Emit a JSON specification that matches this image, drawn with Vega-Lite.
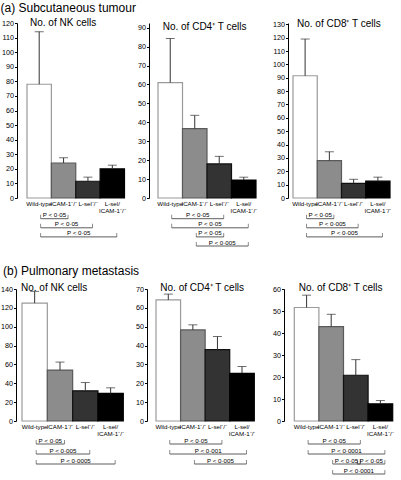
{
  "$schema": "https://vega.github.io/schema/vega-lite/v6.json",
  "autosize": {"type": "pad"},
  "padding": {"left": 0, "top": 2, "right": 0, "bottom": 0},
  "title": {"text": "(a) Subcutaneous tumour", "anchor": "start", "fontSize": 12, "fontWeight": "normal", "offset": -6.8, "baseline": "alphabetic"},
  "config": {
    "font": "Liberation Sans",
    "view": {"stroke": null},
    "axis": {"domainColor": "#000", "tickColor": "#000", "labelColor": "#000", "grid": false, "labelOverlap": false},
    "axisY": {"labelOverlap": false},
    "axisQuantitative": {"labelOverlap": false},
    "title": {"color": "#000"}
  },
  "datasets": {
    "bars": [
      {"panel": "a1", "group": "Wild-type", "mean": 78, "upper": 114},
      {"panel": "a1", "group": "ICAM-1⁻/⁻", "mean": 24, "upper": 27.6},
      {"panel": "a1", "group": "L-sel⁻/⁻", "mean": 11.5, "upper": 14.3},
      {"panel": "a1", "group": "L-sel/ICAM-1⁻/⁻", "mean": 20, "upper": 22.5},
      {"panel": "a2", "group": "Wild-type", "mean": 61, "upper": 84.3},
      {"panel": "a2", "group": "ICAM-1⁻/⁻", "mean": 36.7, "upper": 43.7},
      {"panel": "a2", "group": "L-sel⁻/⁻", "mean": 18, "upper": 22},
      {"panel": "a2", "group": "L-sel/ICAM-1⁻/⁻", "mean": 9.5, "upper": 11},
      {"panel": "a3", "group": "Wild-type", "mean": 91.5, "upper": 119},
      {"panel": "a3", "group": "ICAM-1⁻/⁻", "mean": 28, "upper": 34.6},
      {"panel": "a3", "group": "L-sel⁻/⁻", "mean": 11, "upper": 14},
      {"panel": "a3", "group": "L-sel/ICAM-1⁻/⁻", "mean": 12.6, "upper": 15.6},
      {"panel": "b1", "group": "Wild-type", "mean": 125, "upper": 137.5},
      {"panel": "b1", "group": "ICAM-1⁻/⁻", "mean": 54, "upper": 62.5},
      {"panel": "b1", "group": "L-sel⁻/⁻", "mean": 32, "upper": 40.8},
      {"panel": "b1", "group": "L-sel/ICAM-1⁻/⁻", "mean": 29.2, "upper": 35.2},
      {"panel": "b2", "group": "Wild-type", "mean": 64.2, "upper": 67.3},
      {"panel": "b2", "group": "ICAM-1⁻/⁻", "mean": 48.3, "upper": 51},
      {"panel": "b2", "group": "L-sel⁻/⁻", "mean": 37.8, "upper": 44.8},
      {"panel": "b2", "group": "L-sel/ICAM-1⁻/⁻", "mean": 25.3, "upper": 28.9},
      {"panel": "b3", "group": "Wild-type", "mean": 51.6, "upper": 57.2},
      {"panel": "b3", "group": "ICAM-1⁻/⁻", "mean": 42.9, "upper": 48.5},
      {"panel": "b3", "group": "L-sel⁻/⁻", "mean": 20.8, "upper": 27.9},
      {"panel": "b3", "group": "L-sel/ICAM-1⁻/⁻", "mean": 7.8, "upper": 9.3}
    ],
    "brackets": [
      {"panel": "a1", "from": 1, "to": 2, "level": 1, "label": "P < 0·05"},
      {"panel": "a1", "from": 1, "to": 3, "level": 2, "label": "P < 0·05"},
      {"panel": "a1", "from": 1, "to": 4, "level": 3, "label": "P < 0·05"},
      {"panel": "a2", "from": 1, "to": 3, "level": 1, "label": "P < 0·05"},
      {"panel": "a2", "from": 1, "to": 4, "level": 2, "label": "P < 0·05"},
      {"panel": "a2", "from": 2, "to": 3, "level": 3, "label": "P < 0·05"},
      {"panel": "a2", "from": 2, "to": 4, "level": 4, "label": "P < 0·005"},
      {"panel": "a3", "from": 1, "to": 2, "level": 1, "label": "P < 0·05"},
      {"panel": "a3", "from": 1, "to": 3, "level": 2, "label": "P < 0·005"},
      {"panel": "a3", "from": 1, "to": 4, "level": 3, "label": "P < 0·005"},
      {"panel": "b1", "from": 1, "to": 2, "level": 1, "label": "P < 0·05"},
      {"panel": "b1", "from": 1, "to": 3, "level": 2, "label": "P < 0·005"},
      {"panel": "b1", "from": 1, "to": 4, "level": 3, "label": "P < 0·0005"},
      {"panel": "b2", "from": 1, "to": 3, "level": 1, "label": "P < 0·05"},
      {"panel": "b2", "from": 1, "to": 4, "level": 2, "label": "P < 0·001"},
      {"panel": "b2", "from": 2, "to": 4, "level": 3, "label": "P < 0·005"},
      {"panel": "b3", "from": 1, "to": 3, "level": 1, "label": "P < 0·05"},
      {"panel": "b3", "from": 1, "to": 4, "level": 2, "label": "P < 0·0001"},
      {"panel": "b3", "from": 2, "to": 3, "level": 3, "label": "P < 0·05"},
      {"panel": "b3", "from": 3, "to": 4, "level": 3, "label": "P < 0·05"},
      {"panel": "b3", "from": 2, "to": 4, "level": 4, "label": "P < 0·0001"}
    ]
  },
  "columns": 3,
  "spacing": {"row": 0, "column": 0},
  "bounds": "flush",
  "align": "each",
  "concat": [
    {
      "width": 132, "height": 175,
      "title": {"text": "No. of NK cells", "anchor": "start", "frame": "group", "dx": 13, "offset": -16.5, "fontSize": 10, "fontWeight": "normal", "baseline": "alphabetic"},
      "data": {"name": "bars"},
      "transform": [{"filter": "datum.panel == 'a1'"}],
      "encoding": {
        "x": {"field": "group", "type": "nominal", "sort": null,
          "scale": {"domain": ["Wild-type", "ICAM-1⁻/⁻", "L-sel⁻/⁻", "L-sel/ICAM-1⁻/⁻"], "paddingInner": 0, "paddingOuter": 0.7077, "align": 0.2899},
          "axis": {"title": null, "domain": false, "ticks": false, "labelAngle": 0, "labelFontSize": 6.2, "labelPadding": 2, "labelOverlap": false, "labelBound": false, "labelFlush": false, "labelLineHeight": 7.5, "labelBaseline": "top", "labelExpr": "datum.value == 'L-sel/ICAM-1⁻/⁻' ? ['L-sel/', 'ICAM-1⁻/⁻'] : datum.label"}}
      },
      "layer": [
        {"mark": {"type": "bar", "strokeWidth": 1.2},
          "encoding": {
            "y": {"field": "mean", "type": "quantitative", "stack": null, "scale": {"domain": [0, 120], "nice": false},
              "axis": {"title": null, "values": [0, 10, 20, 30, 40, 50, 60, 70, 80, 90, 100, 110, 120], "labelOverlap": false, "tickSize": 2.5, "labelPadding": 1, "labelFontSize": 7.2}},
            "fill": {"field": "group", "type": "nominal", "legend": null, "scale": {"domain": ["Wild-type", "ICAM-1⁻/⁻", "L-sel⁻/⁻", "L-sel/ICAM-1⁻/⁻"], "range": ["#ffffff", "#8c8c8c", "#333333", "#000000"]}},
            "stroke": {"field": "group", "type": "nominal", "legend": null, "scale": {"domain": ["Wild-type", "ICAM-1⁻/⁻", "L-sel⁻/⁻", "L-sel/ICAM-1⁻/⁻"], "range": ["#9a9a9a", "#5a5a5a", "#111111", "#000000"]}}
          }},
        {"mark": {"type": "rule", "color": "#333", "strokeWidth": 1},
          "encoding": {"y": {"field": "mean", "type": "quantitative", "axis": {"title": null, "values": [0, 10, 20, 30, 40, 50, 60, 70, 80, 90, 100, 110, 120], "labelOverlap": false, "tickSize": 2.5, "labelPadding": 1, "labelFontSize": 7.2}}, "y2": {"field": "upper"}}},
        {"mark": {"type": "tick", "orient": "horizontal", "size": 9, "thickness": 1, "color": "#333"},
          "encoding": {"y": {"field": "upper", "type": "quantitative", "axis": {"title": null, "values": [0, 10, 20, 30, 40, 50, 60, 70, 80, 90, 100, 110, 120], "labelOverlap": false, "tickSize": 2.5, "labelPadding": 1, "labelFontSize": 7.2}}}}
      ]
    },
    {
      "width": 139, "height": 175,
      "title": {"text": "No. of CD4⁺ T cells", "anchor": "start", "frame": "group", "dx": 13.7, "offset": -16.5, "fontSize": 10, "fontWeight": "normal", "baseline": "alphabetic"},
      "data": {"name": "bars"},
      "transform": [{"filter": "datum.panel == 'a2'"}],
      "encoding": {
        "x": {"field": "group", "type": "nominal", "sort": null,
          "scale": {"domain": ["Wild-type", "ICAM-1⁻/⁻", "L-sel⁻/⁻", "L-sel/ICAM-1⁻/⁻"], "paddingInner": 0, "paddingOuter": 0.8367, "align": 0.2195},
          "axis": {"title": null, "domain": false, "ticks": false, "labelAngle": 0, "labelFontSize": 6.2, "labelPadding": 2, "labelOverlap": false, "labelBound": false, "labelFlush": false, "labelLineHeight": 7.5, "labelBaseline": "top", "labelExpr": "datum.value == 'L-sel/ICAM-1⁻/⁻' ? ['L-sel/', 'ICAM-1⁻/⁻'] : datum.label"}}
      },
      "layer": [
        {"mark": {"type": "bar", "strokeWidth": 1.2},
          "encoding": {
            "y": {"field": "mean", "type": "quantitative", "stack": null, "scale": {"domain": [0, 92.5], "nice": false},
              "axis": {"title": null, "values": [0, 10, 20, 30, 40, 50, 60, 70, 80, 90], "labelOverlap": false, "tickSize": 2.5, "labelPadding": 1, "labelFontSize": 7.2}},
            "fill": {"field": "group", "type": "nominal", "legend": null, "scale": {"domain": ["Wild-type", "ICAM-1⁻/⁻", "L-sel⁻/⁻", "L-sel/ICAM-1⁻/⁻"], "range": ["#ffffff", "#8c8c8c", "#333333", "#000000"]}},
            "stroke": {"field": "group", "type": "nominal", "legend": null, "scale": {"domain": ["Wild-type", "ICAM-1⁻/⁻", "L-sel⁻/⁻", "L-sel/ICAM-1⁻/⁻"], "range": ["#9a9a9a", "#5a5a5a", "#111111", "#000000"]}}
          }},
        {"mark": {"type": "rule", "color": "#333", "strokeWidth": 1},
          "encoding": {"y": {"field": "mean", "type": "quantitative", "axis": {"title": null, "values": [0, 10, 20, 30, 40, 50, 60, 70, 80, 90], "labelOverlap": false, "tickSize": 2.5, "labelPadding": 1, "labelFontSize": 7.2}}, "y2": {"field": "upper"}}},
        {"mark": {"type": "tick", "orient": "horizontal", "size": 9, "thickness": 1, "color": "#333"},
          "encoding": {"y": {"field": "upper", "type": "quantitative", "axis": {"title": null, "values": [0, 10, 20, 30, 40, 50, 60, 70, 80, 90], "labelOverlap": false, "tickSize": 2.5, "labelPadding": 1, "labelFontSize": 7.2}}}}
      ]
    },
    {
      "width": 105, "height": 175,
      "title": {"text": "No. of CD8⁺ T cells", "anchor": "start", "frame": "group", "dx": 9, "offset": -16.5, "fontSize": 10, "fontWeight": "normal", "baseline": "alphabetic"},
      "data": {"name": "bars"},
      "transform": [{"filter": "datum.panel == 'a3'"}],
      "encoding": {
        "x": {"field": "group", "type": "nominal", "sort": null,
          "scale": {"domain": ["Wild-type", "ICAM-1⁻/⁻", "L-sel⁻/⁻", "L-sel/ICAM-1⁻/⁻"], "paddingInner": 0, "paddingOuter": 0.1649, "align": 0.625},
          "axis": {"title": null, "domain": false, "ticks": false, "labelAngle": 0, "labelFontSize": 6.2, "labelPadding": 2, "labelOverlap": false, "labelBound": false, "labelFlush": false, "labelLineHeight": 7.5, "labelBaseline": "top", "labelExpr": "datum.value == 'L-sel/ICAM-1⁻/⁻' ? ['L-sel/', 'ICAM-1⁻/⁻'] : datum.label"}}
      },
      "layer": [
        {"mark": {"type": "bar", "strokeWidth": 1.2},
          "encoding": {
            "y": {"field": "mean", "type": "quantitative", "stack": null, "scale": {"domain": [0, 131], "nice": false},
              "axis": {"title": null, "values": [0, 10, 20, 30, 40, 50, 60, 70, 80, 90, 100, 110, 120, 130], "labelOverlap": false, "tickSize": 2.5, "labelPadding": 1, "labelFontSize": 7.2}},
            "fill": {"field": "group", "type": "nominal", "legend": null, "scale": {"domain": ["Wild-type", "ICAM-1⁻/⁻", "L-sel⁻/⁻", "L-sel/ICAM-1⁻/⁻"], "range": ["#ffffff", "#8c8c8c", "#333333", "#000000"]}},
            "stroke": {"field": "group", "type": "nominal", "legend": null, "scale": {"domain": ["Wild-type", "ICAM-1⁻/⁻", "L-sel⁻/⁻", "L-sel/ICAM-1⁻/⁻"], "range": ["#9a9a9a", "#5a5a5a", "#111111", "#000000"]}}
          }},
        {"mark": {"type": "rule", "color": "#333", "strokeWidth": 1},
          "encoding": {"y": {"field": "mean", "type": "quantitative", "axis": {"title": null, "values": [0, 10, 20, 30, 40, 50, 60, 70, 80, 90, 100, 110, 120, 130], "labelOverlap": false, "tickSize": 2.5, "labelPadding": 1, "labelFontSize": 7.2}}, "y2": {"field": "upper"}}},
        {"mark": {"type": "tick", "orient": "horizontal", "size": 9, "thickness": 1, "color": "#333"},
          "encoding": {"y": {"field": "upper", "type": "quantitative", "axis": {"title": null, "values": [0, 10, 20, 30, 40, 50, 60, 70, 80, 90, 100, 110, 120, 130], "labelOverlap": false, "tickSize": 2.5, "labelPadding": 1, "labelFontSize": 7.2}}}}
      ]
    },
    {
      "width": 132, "height": 91,
      "title": {"text": "(b) Pulmonary metastasis", "orient": "bottom", "anchor": "start", "frame": "group", "dx": -14, "offset": -14, "fontSize": 12, "fontWeight": "normal", "baseline": "alphabetic"},
      "data": {"name": "brackets"},
      "transform": [{"filter": "datum.panel == 'a1'"}],
      "encoding": {
        "x": {"field": "from", "type": "quantitative", "scale": {"domain": [0.0897, 5.5051], "nice": false, "zero": false}, "axis": null},
        "y": {"field": "level", "type": "quantitative", "scale": {"domain": [-1.275, 8.725], "reverse": true, "nice": false, "zero": false}, "axis": null}
      },
      "layer": [
        {"mark": {"type": "rule", "xOffset": 1.5, "x2Offset": 4.5, "color": "#333", "strokeWidth": 0.8}, "encoding": {"x2": {"field": "to"}}},
        {"mark": {"type": "tick", "orient": "vertical", "size": 4, "thickness": 0.8, "yOffset": -2, "xOffset": 1.5, "color": "#333"}},
        {"mark": {"type": "tick", "orient": "vertical", "size": 4, "thickness": 0.8, "yOffset": -2, "xOffset": 4.5, "color": "#333"}, "encoding": {"x": {"field": "to", "type": "quantitative"}}},
        {"transform": [{"fold": ["from", "to"], "as": ["end", "pos"]}],
          "mark": {"type": "text", "fontSize": 6.2, "baseline": "bottom", "dy": -0.5, "xOffset": 3, "color": "#000"},
          "encoding": {"x": {"aggregate": "mean", "field": "pos", "type": "quantitative"}, "text": {"field": "label"}, "detail": {"field": "from"}}}
      ]
    },
    {
      "width": 139, "height": 91,
      "data": {"name": "brackets"},
      "transform": [{"filter": "datum.panel == 'a2'"}],
      "encoding": {
        "x": {"field": "from", "type": "quantitative", "scale": {"domain": [0.1327, 5.8062], "nice": false, "zero": false}, "axis": null},
        "y": {"field": "level", "type": "quantitative", "scale": {"domain": [-1.275, 8.725], "reverse": true, "nice": false, "zero": false}, "axis": null}
      },
      "layer": [
        {"mark": {"type": "rule", "xOffset": 1.5, "x2Offset": 4.5, "color": "#333", "strokeWidth": 0.8}, "encoding": {"x2": {"field": "to"}}},
        {"mark": {"type": "tick", "orient": "vertical", "size": 4, "thickness": 0.8, "yOffset": -2, "xOffset": 1.5, "color": "#333"}},
        {"mark": {"type": "tick", "orient": "vertical", "size": 4, "thickness": 0.8, "yOffset": -2, "xOffset": 4.5, "color": "#333"}, "encoding": {"x": {"field": "to", "type": "quantitative"}}},
        {"transform": [{"fold": ["from", "to"], "as": ["end", "pos"]}],
          "mark": {"type": "text", "fontSize": 6.2, "baseline": "bottom", "dy": -0.5, "xOffset": 3, "color": "#000"},
          "encoding": {"x": {"aggregate": "mean", "field": "pos", "type": "quantitative"}, "text": {"field": "label"}, "detail": {"field": "from"}}}
      ]
    },
    {
      "width": 105, "height": 91,
      "data": {"name": "brackets"},
      "transform": [{"filter": "datum.panel == 'a3'"}],
      "encoding": {
        "x": {"field": "from", "type": "quantitative", "scale": {"domain": [0.2938, 4.6237], "nice": false, "zero": false}, "axis": null},
        "y": {"field": "level", "type": "quantitative", "scale": {"domain": [-1.275, 8.725], "reverse": true, "nice": false, "zero": false}, "axis": null}
      },
      "layer": [
        {"mark": {"type": "rule", "xOffset": 1.5, "x2Offset": 4.5, "color": "#333", "strokeWidth": 0.8}, "encoding": {"x2": {"field": "to"}}},
        {"mark": {"type": "tick", "orient": "vertical", "size": 4, "thickness": 0.8, "yOffset": -2, "xOffset": 1.5, "color": "#333"}},
        {"mark": {"type": "tick", "orient": "vertical", "size": 4, "thickness": 0.8, "yOffset": -2, "xOffset": 4.5, "color": "#333"}, "encoding": {"x": {"field": "to", "type": "quantitative"}}},
        {"transform": [{"fold": ["from", "to"], "as": ["end", "pos"]}],
          "mark": {"type": "text", "fontSize": 6.2, "baseline": "bottom", "dy": -0.5, "xOffset": 3, "color": "#000"},
          "encoding": {"x": {"aggregate": "mean", "field": "pos", "type": "quantitative"}, "text": {"field": "label"}, "detail": {"field": "from"}}}
      ]
    },
    {
      "width": 132, "height": 132,
      "title": {"text": "No. of NK cells", "anchor": "start", "frame": "group", "dx": 4, "offset": -16, "fontSize": 10, "fontWeight": "normal", "baseline": "alphabetic"},
      "data": {"name": "bars"},
      "transform": [{"filter": "datum.panel == 'b1'"}],
      "encoding": {
        "x": {"field": "group", "type": "nominal", "sort": null,
          "scale": {"domain": ["Wild-type", "ICAM-1⁻/⁻", "L-sel⁻/⁻", "L-sel/ICAM-1⁻/⁻"], "paddingInner": 0, "paddingOuter": 0.6061, "align": 0.1629},
          "axis": {"title": null, "domain": false, "ticks": false, "labelAngle": 0, "labelFontSize": 6.2, "labelPadding": 2, "labelOverlap": false, "labelBound": false, "labelFlush": false, "labelLineHeight": 7.5, "labelBaseline": "top", "labelExpr": "datum.value == 'L-sel/ICAM-1⁻/⁻' ? ['L-sel/', 'ICAM-1⁻/⁻'] : datum.label"}}
      },
      "layer": [
        {"mark": {"type": "bar", "strokeWidth": 1.2},
          "encoding": {
            "y": {"field": "mean", "type": "quantitative", "stack": null, "scale": {"domain": [0, 140], "nice": false},
              "axis": {"title": null, "values": [0, 20, 40, 60, 80, 100, 120, 140], "labelOverlap": false, "tickSize": 2.5, "labelPadding": 1, "labelFontSize": 7.2, "offset": 1}},
            "fill": {"field": "group", "type": "nominal", "legend": null, "scale": {"domain": ["Wild-type", "ICAM-1⁻/⁻", "L-sel⁻/⁻", "L-sel/ICAM-1⁻/⁻"], "range": ["#ffffff", "#8c8c8c", "#333333", "#000000"]}},
            "stroke": {"field": "group", "type": "nominal", "legend": null, "scale": {"domain": ["Wild-type", "ICAM-1⁻/⁻", "L-sel⁻/⁻", "L-sel/ICAM-1⁻/⁻"], "range": ["#9a9a9a", "#5a5a5a", "#111111", "#000000"]}}
          }},
        {"mark": {"type": "rule", "color": "#333", "strokeWidth": 1},
          "encoding": {"y": {"field": "mean", "type": "quantitative", "axis": {"title": null, "values": [0, 20, 40, 60, 80, 100, 120, 140], "labelOverlap": false, "tickSize": 2.5, "labelPadding": 1, "labelFontSize": 7.2, "offset": 1}}, "y2": {"field": "upper"}}},
        {"mark": {"type": "tick", "orient": "horizontal", "size": 9, "thickness": 1, "color": "#333"},
          "encoding": {"y": {"field": "upper", "type": "quantitative", "axis": {"title": null, "values": [0, 20, 40, 60, 80, 100, 120, 140], "labelOverlap": false, "tickSize": 2.5, "labelPadding": 1, "labelFontSize": 7.2, "offset": 1}}}}
      ]
    },
    {
      "width": 139, "height": 132,
      "title": {"text": "No. of CD4⁺ T cells", "anchor": "start", "frame": "group", "dx": 11.3, "offset": -16, "fontSize": 10, "fontWeight": "normal", "baseline": "alphabetic"},
      "data": {"name": "bars"},
      "transform": [{"filter": "datum.panel == 'b2'"}],
      "encoding": {
        "x": {"field": "group", "type": "nominal", "sort": null,
          "scale": {"domain": ["Wild-type", "ICAM-1⁻/⁻", "L-sel⁻/⁻", "L-sel/ICAM-1⁻/⁻"], "paddingInner": 0, "paddingOuter": 0.8281, "align": 0.172},
          "axis": {"title": null, "domain": false, "ticks": false, "labelAngle": 0, "labelFontSize": 6.2, "labelPadding": 2, "labelOverlap": false, "labelBound": false, "labelFlush": false, "labelLineHeight": 7.5, "labelBaseline": "top", "labelExpr": "datum.value == 'L-sel/ICAM-1⁻/⁻' ? ['L-sel/', 'ICAM-1⁻/⁻'] : datum.label"}}
      },
      "layer": [
        {"mark": {"type": "bar", "strokeWidth": 1.2},
          "encoding": {
            "y": {"field": "mean", "type": "quantitative", "stack": null, "scale": {"domain": [0, 70], "nice": false},
              "axis": {"title": null, "values": [0, 10, 20, 30, 40, 50, 60, 70], "labelOverlap": false, "tickSize": 2.5, "labelPadding": 1, "labelFontSize": 7.2, "offset": 2}},
            "fill": {"field": "group", "type": "nominal", "legend": null, "scale": {"domain": ["Wild-type", "ICAM-1⁻/⁻", "L-sel⁻/⁻", "L-sel/ICAM-1⁻/⁻"], "range": ["#ffffff", "#8c8c8c", "#333333", "#000000"]}},
            "stroke": {"field": "group", "type": "nominal", "legend": null, "scale": {"domain": ["Wild-type", "ICAM-1⁻/⁻", "L-sel⁻/⁻", "L-sel/ICAM-1⁻/⁻"], "range": ["#9a9a9a", "#5a5a5a", "#111111", "#000000"]}}
          }},
        {"mark": {"type": "rule", "color": "#333", "strokeWidth": 1},
          "encoding": {"y": {"field": "mean", "type": "quantitative", "axis": {"title": null, "values": [0, 10, 20, 30, 40, 50, 60, 70], "labelOverlap": false, "tickSize": 2.5, "labelPadding": 1, "labelFontSize": 7.2, "offset": 2}}, "y2": {"field": "upper"}}},
        {"mark": {"type": "tick", "orient": "horizontal", "size": 9, "thickness": 1, "color": "#333"},
          "encoding": {"y": {"field": "upper", "type": "quantitative", "axis": {"title": null, "values": [0, 10, 20, 30, 40, 50, 60, 70], "labelOverlap": false, "tickSize": 2.5, "labelPadding": 1, "labelFontSize": 7.2, "offset": 2}}}}
      ]
    },
    {
      "width": 105, "height": 132,
      "title": {"text": "No. of CD8⁺ T cells", "anchor": "start", "frame": "group", "dx": 10.7, "offset": -16, "fontSize": 10, "fontWeight": "normal", "baseline": "alphabetic"},
      "data": {"name": "bars"},
      "transform": [{"filter": "datum.panel == 'b3'"}],
      "encoding": {
        "x": {"field": "group", "type": "nominal", "sort": null,
          "scale": {"domain": ["Wild-type", "ICAM-1⁻/⁻", "L-sel⁻/⁻", "L-sel/ICAM-1⁻/⁻"], "paddingInner": 0, "paddingOuter": 0.1341, "align": 0.9545},
          "axis": {"title": null, "domain": false, "ticks": false, "labelAngle": 0, "labelFontSize": 6.2, "labelPadding": 2, "labelOverlap": false, "labelBound": false, "labelFlush": false, "labelLineHeight": 7.5, "labelBaseline": "top", "labelExpr": "datum.value == 'L-sel/ICAM-1⁻/⁻' ? ['L-sel/', 'ICAM-1⁻/⁻'] : datum.label"}}
      },
      "layer": [
        {"mark": {"type": "bar", "strokeWidth": 1.2},
          "encoding": {
            "y": {"field": "mean", "type": "quantitative", "stack": null, "scale": {"domain": [0, 60], "nice": false},
              "axis": {"title": null, "values": [0, 10, 20, 30, 40, 50, 60], "labelOverlap": false, "tickSize": 2.5, "labelPadding": 1, "labelFontSize": 7.2, "offset": 4}},
            "fill": {"field": "group", "type": "nominal", "legend": null, "scale": {"domain": ["Wild-type", "ICAM-1⁻/⁻", "L-sel⁻/⁻", "L-sel/ICAM-1⁻/⁻"], "range": ["#ffffff", "#8c8c8c", "#333333", "#000000"]}},
            "stroke": {"field": "group", "type": "nominal", "legend": null, "scale": {"domain": ["Wild-type", "ICAM-1⁻/⁻", "L-sel⁻/⁻", "L-sel/ICAM-1⁻/⁻"], "range": ["#9a9a9a", "#5a5a5a", "#111111", "#000000"]}}
          }},
        {"mark": {"type": "rule", "color": "#333", "strokeWidth": 1},
          "encoding": {"y": {"field": "mean", "type": "quantitative", "axis": {"title": null, "values": [0, 10, 20, 30, 40, 50, 60], "labelOverlap": false, "tickSize": 2.5, "labelPadding": 1, "labelFontSize": 7.2, "offset": 4}}, "y2": {"field": "upper"}}},
        {"mark": {"type": "tick", "orient": "horizontal", "size": 9, "thickness": 1, "color": "#333"},
          "encoding": {"y": {"field": "upper", "type": "quantitative", "axis": {"title": null, "values": [0, 10, 20, 30, 40, 50, 60], "labelOverlap": false, "tickSize": 2.5, "labelPadding": 1, "labelFontSize": 7.2, "offset": 4}}}}
      ]
    },
    {
      "width": 132, "height": 58,
      "data": {"name": "brackets"},
      "transform": [{"filter": "datum.panel == 'b1'"}],
      "encoding": {
        "x": {"field": "from", "type": "quantitative", "scale": {"domain": [0.3026, 5.5148], "nice": false, "zero": false}, "axis": null},
        "y": {"field": "level", "type": "quantitative", "scale": {"domain": [-1.3, 4.5], "reverse": true, "nice": false, "zero": false}, "axis": null}
      },
      "layer": [
        {"mark": {"type": "rule", "xOffset": 1.5, "x2Offset": 4.5, "color": "#333", "strokeWidth": 0.8}, "encoding": {"x2": {"field": "to"}}},
        {"mark": {"type": "tick", "orient": "vertical", "size": 4, "thickness": 0.8, "yOffset": -2, "xOffset": 1.5, "color": "#333"}},
        {"mark": {"type": "tick", "orient": "vertical", "size": 4, "thickness": 0.8, "yOffset": -2, "xOffset": 4.5, "color": "#333"}, "encoding": {"x": {"field": "to", "type": "quantitative"}}},
        {"transform": [{"fold": ["from", "to"], "as": ["end", "pos"]}],
          "mark": {"type": "text", "fontSize": 6.2, "baseline": "bottom", "dy": -0.5, "xOffset": 3, "color": "#000"},
          "encoding": {"x": {"aggregate": "mean", "field": "pos", "type": "quantitative"}, "text": {"field": "label"}, "detail": {"field": "from"}}}
      ]
    },
    {
      "width": 139, "height": 58,
      "data": {"name": "brackets"},
      "transform": [{"filter": "datum.panel == 'b2'"}],
      "encoding": {
        "x": {"field": "from", "type": "quantitative", "scale": {"domain": [0.2152, 5.8714], "nice": false, "zero": false}, "axis": null},
        "y": {"field": "level", "type": "quantitative", "scale": {"domain": [-1.3, 4.5], "reverse": true, "nice": false, "zero": false}, "axis": null}
      },
      "layer": [
        {"mark": {"type": "rule", "xOffset": 1.5, "x2Offset": 4.5, "color": "#333", "strokeWidth": 0.8}, "encoding": {"x2": {"field": "to"}}},
        {"mark": {"type": "tick", "orient": "vertical", "size": 4, "thickness": 0.8, "yOffset": -2, "xOffset": 1.5, "color": "#333"}},
        {"mark": {"type": "tick", "orient": "vertical", "size": 4, "thickness": 0.8, "yOffset": -2, "xOffset": 4.5, "color": "#333"}, "encoding": {"x": {"field": "to", "type": "quantitative"}}},
        {"transform": [{"fold": ["from", "to"], "as": ["end", "pos"]}],
          "mark": {"type": "text", "fontSize": 6.2, "baseline": "bottom", "dy": -0.5, "xOffset": 3, "color": "#000"},
          "encoding": {"x": {"aggregate": "mean", "field": "pos", "type": "quantitative"}, "text": {"field": "label"}, "detail": {"field": "from"}}}
      ]
    },
    {
      "width": 105, "height": 58,
      "data": {"name": "brackets"},
      "transform": [{"filter": "datum.panel == 'b3'"}],
      "encoding": {
        "x": {"field": "from", "type": "quantitative", "scale": {"domain": [0.2439, 4.5122], "nice": false, "zero": false}, "axis": null},
        "y": {"field": "level", "type": "quantitative", "scale": {"domain": [-1.3, 4.5], "reverse": true, "nice": false, "zero": false}, "axis": null}
      },
      "layer": [
        {"mark": {"type": "rule", "xOffset": 1.5, "x2Offset": 4.5, "color": "#333", "strokeWidth": 0.8}, "encoding": {"x2": {"field": "to"}}},
        {"mark": {"type": "tick", "orient": "vertical", "size": 4, "thickness": 0.8, "yOffset": -2, "xOffset": 1.5, "color": "#333"}},
        {"mark": {"type": "tick", "orient": "vertical", "size": 4, "thickness": 0.8, "yOffset": -2, "xOffset": 4.5, "color": "#333"}, "encoding": {"x": {"field": "to", "type": "quantitative"}}},
        {"transform": [{"fold": ["from", "to"], "as": ["end", "pos"]}],
          "mark": {"type": "text", "fontSize": 6.2, "baseline": "bottom", "dy": -0.5, "xOffset": 3, "color": "#000"},
          "encoding": {"x": {"aggregate": "mean", "field": "pos", "type": "quantitative"}, "text": {"field": "label"}, "detail": {"field": "from"}}}
      ]
    }
  ]
}
